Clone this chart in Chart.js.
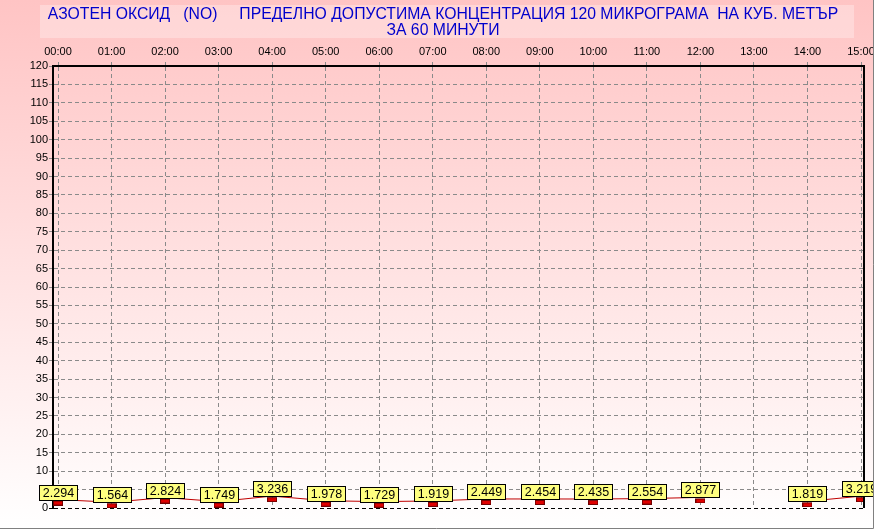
<!DOCTYPE html>
<html>
<head>
<meta charset="utf-8">
<script src="https://cdn.jsdelivr.net/npm/chart.js@4.4.1/dist/chart.umd.min.js"></script>
<style>
  html, body { margin: 0; padding: 0; background: #fff; }
  canvas { display: block; }
</style>
</head>
<body>
<canvas id="noChart" width="874" height="529"></canvas>
<script>
// ===================== DATA =====================
const titleLines = [
  'АЗОТЕН ОКСИД   (NO)     ПРЕДЕЛНО ДОПУСТИМА КОНЦЕНТРАЦИЯ 120 МИКРОГРАМА  НА КУБ. МЕТЪР',
  'ЗА 60 МИНУТИ'
];
const hours = ['00:00', '01:00', '02:00', '03:00', '04:00', '05:00', '06:00', '07:00',
               '08:00', '09:00', '10:00', '11:00', '12:00', '13:00', '14:00', '15:00'];
// 13:00 has no measurement
const noValues = [2.294, 1.564, 2.824, 1.749, 3.236, 1.978, 1.729, 1.919,
                  2.449, 2.454, 2.435, 2.554, 2.877, null, 1.819, 3.219];
const yMin = 0;
const yMax = 120;
const yStep = 5;
const hiddenYLabels = [5];

const FONT = '"Liberation Sans", Arial, sans-serif';

// ===================== MARKER =====================
// small red block sitting just under the value
function makeMarker() {
  const cv = document.createElement('canvas');
  cv.width = 10;
  cv.height = 12;
  const c = cv.getContext('2d');
  c.fillStyle = '#e00000';
  c.fillRect(0, 7, 10, 5);
  c.strokeStyle = '#700000';
  c.lineWidth = 1;
  c.strokeRect(0.5, 7.5, 9, 4);
  return cv;
}

// ===================== PLUGINS =====================
const backgroundPlugin = {
  id: 'background',
  beforeDraw(chart) {
    const c = chart.ctx;
    c.save();
    const g = c.createLinearGradient(0, 0, 0, chart.height);
    g.addColorStop(0, '#ffc4c4');
    g.addColorStop(1, '#ffffff');
    c.fillStyle = g;
    c.fillRect(0, 0, chart.width, chart.height);

    // title panel
    c.fillStyle = 'rgba(255,235,235,0.45)';
    c.fillRect(40, 5, 814, 33);

    c.fillStyle = '#0000cc';
    c.font = '15.75px ' + FONT;
    c.textAlign = 'center';
    c.textBaseline = 'alphabetic';
    c.fillText(titleLines[0], 443, 19);
    c.fillText(titleLines[1], 443, 35);
    c.restore();
  }
};

const frameAndLabelsPlugin = {
  id: 'frameAndLabels',
  afterDatasetsDraw(chart) {
    const c = chart.ctx;
    const area = chart.chartArea;
    c.save();

    // right edge of the plot
    c.strokeStyle = '#000';
    c.lineWidth = 2;
    c.beginPath();
    c.moveTo(area.right, area.top - 1);
    c.lineTo(area.right, area.bottom);
    c.stroke();

    // value boxes
    const meta = chart.getDatasetMeta(0);
    c.font = '12.5px ' + FONT;
    c.textAlign = 'center';
    c.textBaseline = 'middle';
    meta.data.forEach((pt, i) => {
      const v = noValues[i];
      if (v === null || v === undefined) return;
      const w = 38, h = 15;
      const x = Math.round(pt.x - w / 2) + 0.5;
      const y = Math.round(pt.y - h) + 0.5;
      c.fillStyle = '#ffff80';
      c.fillRect(x, y, w, h);
      c.strokeStyle = '#000';
      c.lineWidth = 1;
      c.strokeRect(x, y, w, h);
      c.fillStyle = '#000';
      c.fillText(v.toFixed(3), x + w / 2, y + h / 2 + 1);
    });

    // outer frame (bottom / right)
    c.strokeStyle = '#808080';
    c.lineWidth = 1;
    c.beginPath();
    c.moveTo(0, chart.height - 0.5);
    c.lineTo(chart.width - 0.5, chart.height - 0.5);
    c.lineTo(chart.width - 0.5, 0);
    c.stroke();
    c.restore();
  }
};

// ===================== CHART =====================
const ctx = document.getElementById('noChart');

new Chart(ctx, {
  type: 'line',
  data: {
    datasets: [{
      data: noValues.map((v, i) => ({ x: i, y: v })),
      borderColor: '#c00000',
      borderWidth: 1,
      pointStyle: makeMarker(),
      pointRadius: 5,
      tension: 0,
      fill: false,
      spanGaps: false
    }]
  },
  options: {
    responsive: false,
    animation: false,
    layout: { padding: { top: 40, right: 10, bottom: 21, left: 0 } },
    plugins: {
      legend: { display: false },
      title: { display: false },
      tooltip: { enabled: false }
    },
    scales: {
      x: {
        type: 'linear',
        position: 'top',
        min: -0.0934,
        max: 15.056,
        afterFit: s => { s.height = 26; s.paddingLeft = 0; s.paddingRight = 0; },
        ticks: {
          stepSize: 1,
          includeBounds: false,
          autoSkip: false,
          maxRotation: 0,
          maxTicksLimit: 100,
          padding: 3,
          color: '#000',
          font: { family: FONT, size: 11 },
          callback: v => hours[v] ?? ''
        },
        grid: { color: '#8a8a8a', tickLength: 4 },
        border: { display: true, color: '#000', width: 2, dash: [4, 3] }
      },
      y: {
        min: yMin,
        max: yMax,
        afterFit: s => { s.width = 53; s.paddingTop = 0; s.paddingBottom = 0; },
        ticks: {
          stepSize: yStep,
          maxTicksLimit: 100,
          padding: 1,
          color: '#000',
          font: { family: FONT, size: 11 },
          callback: v => hiddenYLabels.includes(v) ? '' : v
        },
        grid: {
          color: c => (c.tick && c.tick.value === 0) ? '#000' : '#8a8a8a',
          tickLength: 4
        },
        border: { display: true, color: '#000', width: 2, dash: [4, 3] }
      }
    }
  },
  plugins: [backgroundPlugin, frameAndLabelsPlugin]
});
</script>
</body>
</html>
